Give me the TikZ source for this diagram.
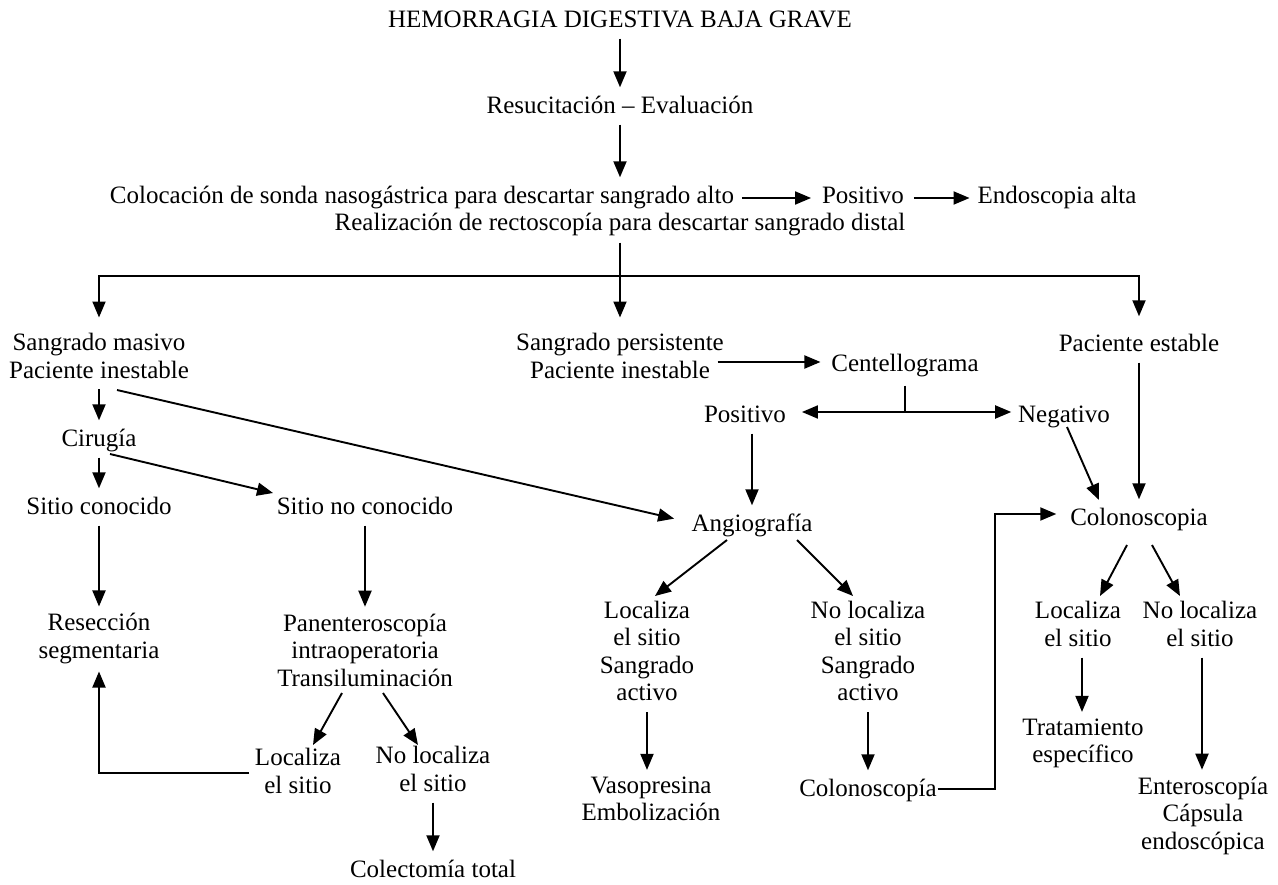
\documentclass[tikz,border=0pt]{standalone}
\usepackage{fontspec}
\setmainfont{Liberation Serif}
\usetikzlibrary{arrows.meta,calc}

\tikzset{
	txt/.style={align=center,inner sep=0pt,font=\fontsize{25}{27.5}\selectfont,
		execute at begin node=\strut,execute at end node=\strut},
	flow/.style={-{Triangle[length=16pt,width=13pt]},shorten <=2pt,shorten >=6pt}
}

\begin{document}
\begin{tikzpicture}[x=1pt,y=-1pt,line width=1.9pt]
	\useasboundingbox (0,0) rectangle (1278,885);
	% start of the chart
	\node[txt] (head) at (620,22) {HEMORRAGIA DIGESTIVA BAJA GRAVE};
	\node[txt] (resus) at (620,108) {Resucitación – Evaluación};
	\node[txt] (coloc) at (422,198) {Colocación de sonda nasogástrica para descartar sangrado alto};
	\node[txt] (posA) at (863,198) {Positivo};
	\node[txt] (endo) at (1057,198) {Endoscopia alta};
	\node[txt] (realiz) at (620,225) {Realización de rectoscopía para descartar sangrado distal};
	\coordinate (split) at (620,276);
	% the three branches
	\node[txt] (masivo) at (99,360) {Sangrado masivo\\Paciente inestable};
	\node[txt] (persist) at (620,360) {Sangrado persistente\\Paciente inestable};
	\node[txt] (estable) at (1139,346) {Paciente estable};
	\node[txt] (centel) at (905,366) {Centellograma};
	\node[txt] (posB) at (745,417) {Positivo};
	\node[txt] (negB) at (1064,417) {Negativo};
	\coordinate (cs) at (905,412);
	% surgery
	\node[txt] (cirugia) at (99,441) {Cirugía};
	\node[txt] (conoc) at (99,509) {Sitio conocido};
	\node[txt] (noconoc) at (365,509) {Sitio no conocido};
	\node[txt] (resec) at (99,640) {Resección\\segmentaria};
	\node[txt] (panent) at (365,654) {Panenteroscopía\\intraoperatoria\\Transiluminación};
	\node[txt] (locA) at (298,775) {Localiza\\el sitio};
	\node[txt] (nolocA) at (433,773) {No localiza\\el sitio};
	\node[txt] (colect) at (433,872) {Colectomía total};
	% angiography
	\node[txt] (angio) at (752,526) {Angiografía};
	\node[txt] (locB) at (647,655) {Localiza\\el sitio\\Sangrado\\activo};
	\node[txt] (nolocB) at (868,655) {No localiza\\el sitio\\Sangrado\\activo};
	\node[txt] (vaso) at (651,803) {Vasopresina\\Embolización};
	\node[txt] (colonB) at (868,791) {Colonoscopía};
	% colonoscopy
	\node[txt] (colono) at (1139,520) {Colonoscopia};
	\node[txt] (locC) at (1078,628) {Localiza\\el sitio};
	\node[txt] (nolocC) at (1200,628) {No localiza\\el sitio};
	\node[txt] (trat) at (1083,745) {Tratamiento\\específico};
	\node[txt] (entero) at (1203,817) {Enteroscopía\\Cápsula\\endoscópica};

	\draw[flow] (head) -- (resus);
	\draw[flow] (resus) -- (resus |- coloc.north);
	\draw[flow,shorten <=7pt,shorten >=10pt] (coloc) -- (posA);
	\draw[flow,shorten <=9pt,shorten >=7pt] (posA) -- (endo);
	\draw (realiz.south) ++(0,3) -- (split);
	\draw[flow,shorten <=0pt,shorten >=15pt] (split) -| (masivo);
	\draw[flow,shorten <=0pt,shorten >=15pt] (split) -- (persist);
	\draw[flow,shorten <=0pt,shorten >=15pt] (split) -| (estable);

	\draw[flow] (masivo) -- (cirugia);
	\draw[flow,shorten <=0pt] ($(masivo)+(18,30)$) -- ($(angio)+(-72,-6)$);
	\draw[flow] (cirugia) -- (conoc);
	\draw[flow,shorten <=0pt,shorten >=0pt] ($(cirugia)+(11,13)$) -- ($(noconoc)+(-92,-16)$);
	\draw[flow] (conoc) -- (resec);
	\draw[flow] (noconoc) -- (panent);
	\draw[flow,shorten <=0pt,shorten >=0pt] ($(panent)+(-23,39)$) -- ($(locA)+(15,-30)$);
	\draw[flow,shorten <=0pt,shorten >=0pt] ($(panent)+(18,39)$) -- ($(nolocA)+(-15,-28)$);
	\draw[flow,shorten <=5pt,shorten >=4pt] ($(locA.west)+(0,-2)$) -| (resec);
	\draw[flow] (nolocA) -- (colect);

	\draw[flow,shorten <=0pt,shorten >=10pt] ($(persist.east)+(-7,2)$) -- ($(centel.west)+(0,-4)$);
	\draw (centel.south) ++(0,5) -- (cs);
	\draw[flow,shorten <=0pt,shorten >=15pt] (cs) -- (cs -| posB.east);
	\draw[flow,shorten <=0pt,shorten >=6pt] (cs) -- (cs -| negB.west);
	\draw[flow] (posB.south -| angio.north) -- (angio);
	\draw[flow,shorten <=0pt,shorten >=0pt] ($(negB)+(3,10)$) -- ($(colono)+(-40,-20)$);
	\draw[flow] (estable) -- (colono);

	\draw[flow,shorten <=0pt,shorten >=0pt] ($(angio)+(-25,14)$) -- ($(locB)+(8,-59)$);
	\draw[flow,shorten <=0pt,shorten >=0pt] ($(angio)+(45,14)$) -- ($(nolocB)+(-15,-59)$);
	\draw[flow] (locB) -- (locB |- vaso.north);
	\draw[flow] (nolocB) -- (colonB);
	\draw[flow,shorten <=0pt,shorten >=13pt] ($(colonB.east)+(0,-2)$) -- ++(57,0) |- ($(colono.west)+(0,-6)$);

	\draw[flow,shorten <=0pt,shorten >=0pt] ($(colono)+(-12,25)$) -- ($(locC)+(22,-32)$);
	\draw[flow,shorten <=0pt,shorten >=0pt] ($(colono)+(13,25)$) -- ($(nolocC)+(-20,-32)$);
	\draw[flow] ($(locC.south)+(4,0)$) -- ($(locC.south |- trat.north)+(4,0)$);
	\draw[flow] ($(nolocC.south)+(2,0)$) -- ($(nolocC.south |- entero.north)+(2,0)$);
\end{tikzpicture}
\end{document}
